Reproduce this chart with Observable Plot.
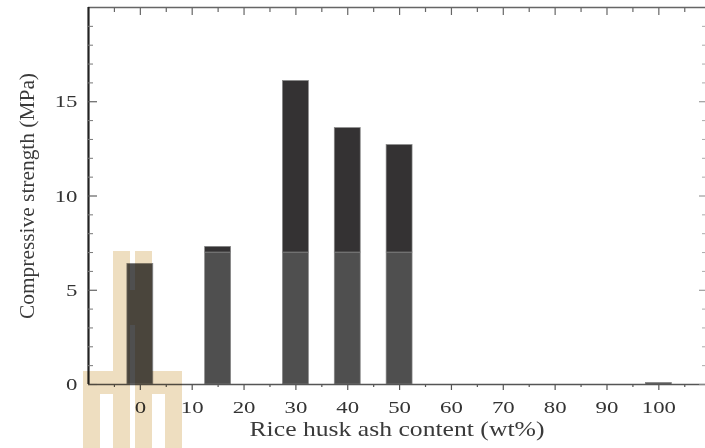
<!DOCTYPE html>
<html><head><meta charset="utf-8">
<script src="https://cdn.jsdelivr.net/npm/d3@7"></script>
<script src="https://cdn.jsdelivr.net/npm/@observablehq/plot@0.6"></script>
<style>
html,body{margin:0;padding:0;background:#fff;overflow:hidden}
#wrap{position:relative;width:705px;height:448px}
.wm{position:absolute;background:rgb(238,222,192);mix-blend-mode:multiply}
</style></head><body><div id="wrap"></div>
<script>
// Data
const contents = [0, 15, 30, 40, 50, 100];           // rice husk ash content (wt%)
const baseStrength = [6.4, 7.0, 7.0, 7.0, 7.0, 0.08]; // lower (light) segment top, MPa
const totalStrength = [6.4, 7.3, 16.1, 13.6, 12.7, 0.08]; // bar top, MPa
const xTickLabels = [0, 10, 20, 30, 40, 50, 60, 70, 80, 90, 100];
const xMinorTicks = [-5, 5, 15, 25, 35, 45, 55, 65, 75, 85, 95, 105];
const yTickLabels = [0, 5, 10, 15];
const yMinorTicks = [1,2,3,4,6,7,8,9,11,12,13,14,16,17,18,19];
const xTitle = "Rice husk ash content (wt%)";
const yTitle = "Compressive strength (MPa)";

const half = 2.5;
const lower = contents.map((c, i) => ({c, y1: 0, y2: baseStrength[i]}));
const upper = contents.map((c, i) => ({c, y1: baseStrength[i], y2: totalStrength[i]})).filter(d => d.y2 > d.y1);

const chart = Plot.plot({
  width: 705, height: 448,
  marginLeft: 88, marginRight: 0, marginTop: 7, marginBottom: 64,
  x: {domain: [-10, 109]},
  y: {domain: [0, 20]},
  style: {fontFamily: "Liberation Serif", fontSize: "17.5px", color: "#333", background: "transparent"},
  marks: [
    Plot.rect(lower, {x1: d => d.c - half, x2: d => d.c + half, y1: "y1", y2: "y2", fill: "#4f4f4f", stroke: "#858585", strokeWidth: 0.7}),
    Plot.rect(upper, {x1: d => d.c - half, x2: d => d.c + half, y1: "y1", y2: "y2", fill: "#343233", stroke: "#858585", strokeWidth: 0.7}),
    Plot.ruleY([0], {stroke: "#555", strokeWidth: 1.6}),
    Plot.ruleY([20], {stroke: "#666", strokeWidth: 1.3}),
    Plot.ruleX([-10], {stroke: "#222", strokeWidth: 2.2}),
    // bottom ticks (outward)
    Plot.axisX(xTickLabels, {anchor: "bottom", tickSize: 6, tickFormat: () => "", label: null, stroke: "#555", strokeWidth: 1.2}),
    Plot.axisX(xMinorTicks, {anchor: "bottom", tickSize: 3, tickFormat: () => "", label: null, stroke: "#555", strokeWidth: 1.2}),
    // top ticks (inward)
    Plot.axisX(xTickLabels, {anchor: "top", tickSize: -7, tickFormat: () => "", label: null, stroke: "#666", strokeWidth: 1.2}),
    Plot.axisX(xMinorTicks, {anchor: "top", tickSize: -4, tickFormat: () => "", label: null, stroke: "#666", strokeWidth: 1.2}),
    // left ticks (inward)
    Plot.axisY(yTickLabels, {anchor: "left", tickSize: -9, tickFormat: () => "", label: null, stroke: "#555", strokeWidth: 1.1}),
    Plot.axisY(yMinorTicks, {anchor: "left", tickSize: -5, tickFormat: () => "", label: null, stroke: "#777", strokeWidth: 1}),
    // right ticks (inward)
    Plot.axisY(yTickLabels, {anchor: "right", tickSize: -7, tickFormat: () => "", label: null, stroke: "#888", strokeWidth: 1}),
    Plot.axisY(yMinorTicks, {anchor: "right", tickSize: -4, tickFormat: () => "", label: null, stroke: "#aaa", strokeWidth: 1}),
    // tick labels
    Plot.axisX(xTickLabels, {anchor: "bottom", tickSize: 0, tickPadding: 16, label: null, fill: "#333"}),
    Plot.axisY(yTickLabels, {anchor: "left", tickSize: 0, tickPadding: 11, label: null, fill: "#333"}),
    // titles
    Plot.text([xTitle], {frameAnchor: "bottom", dy: 51, fontSize: 21, fill: "#3a3a3a", textAnchor: "middle"}),
    Plot.text([yTitle], {frameAnchor: "left", dx: -62, rotate: -90, fontSize: 22, fill: "#3a3a3a", textAnchor: "middle"})
  ]
});
const wrap = document.getElementById("wrap");
wrap.appendChild(chart);

// horizontal stretch of texts to match the reference's wide lettering
const svg = wrap.querySelector("svg");
svg.querySelectorAll('g[aria-label="x-axis tick label"] text, g[aria-label="y-axis tick label"] text').forEach(t => {
  if (!t.textContent) return;
  const L = t.getComputedTextLength();
  t.setAttribute("textLength", (L * 1.3).toFixed(1));
  t.setAttribute("lengthAdjust", "spacingAndGlyphs");
});
svg.querySelectorAll('g[aria-label="text"] text').forEach(t => {
  t.setAttribute("lengthAdjust", "spacingAndGlyphs");
  t.setAttribute("textLength", t.textContent === xTitle ? 295 : 246);
});

// watermark overlay (decorative)
[[83,371,17,77],[100,371,13,23],[113,251,17,197],[130,290,5,35],[135,251,17,197],[152,371,13,23],[165,371,17,77]]
  .forEach(([l,t,w,h]) => {
    const d = document.createElement("div");
    d.className = "wm";
    Object.assign(d.style, {left: l + "px", top: t + "px", width: w + "px", height: h + "px"});
    wrap.appendChild(d);
  });
</script></body></html>
